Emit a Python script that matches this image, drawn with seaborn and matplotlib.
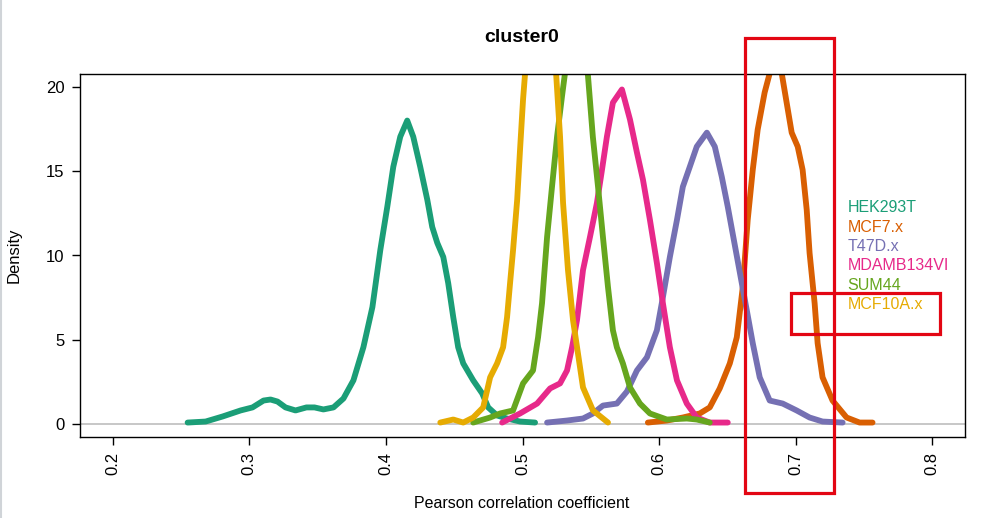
import numpy as np
import pandas as pd
import matplotlib
matplotlib.use("Agg")
import matplotlib.pyplot as plt
import seaborn as sns
from matplotlib.patches import Rectangle
from matplotlib.lines import Line2D

# values (x = Pearson r, y = density)
cell_lines = ["HEK293T", "MCF7.x", "T47D.x", "MDAMB134VI", "SUM44", "MCF10A.x"]
colors = ["#1B9E77", "#D95F02", "#7570B3", "#E7298A", "#66A61E", "#E6AB02"]

hek_x = [0.2548, 0.268, 0.2804, 0.2936, 0.3023, 0.3104, 0.3155, 0.3206, 0.3265, 0.3338,
         0.3418, 0.3477, 0.3542, 0.3616, 0.3689, 0.3762, 0.3835, 0.3901, 0.3959, 0.401,
         0.4054, 0.4105, 0.4156, 0.42, 0.4251, 0.4303, 0.4339, 0.4376, 0.442, 0.4456,
         0.4493, 0.4529, 0.4566, 0.4639, 0.4705, 0.4749, 0.4814, 0.4887, 0.4982, 0.5092]
hek_y = [0.06, 0.12, 0.42, 0.78, 0.96, 1.37, 1.43, 1.31, 0.96, 0.78,
         0.96, 0.96, 0.84, 0.96, 1.49, 2.57, 4.54, 6.93, 10.33, 12.9,
         15.28, 17.07, 18.03, 17.07, 15.28, 13.31, 11.7, 10.75, 9.91, 8.36,
         6.33, 4.54, 3.58, 2.57, 1.79, 0.96, 0.48, 0.3, 0.12, 0.06]

mcf7_x = [0.5918, 0.6057, 0.6174, 0.6298, 0.6371, 0.6444, 0.6518, 0.6569, 0.6613, 0.6649,
          0.6686, 0.6722, 0.6773, 0.681, 0.6855, 0.6898, 0.6934, 0.6971, 0.7015, 0.7051,
          0.7081, 0.7102, 0.7139, 0.7161, 0.7197, 0.727, 0.7373, 0.7468, 0.7563]
mcf7_y = [0.06, 0.18, 0.36, 0.6, 0.96, 2.09, 3.58, 5.13, 8.12, 12.12,
          15.1, 17.49, 19.7, 20.84, 21.8, 20.84, 19.1, 17.31, 16.48, 15.1,
          12.72, 10.15, 7.16, 4.78, 2.75, 1.37, 0.36, 0.06, 0.06]

t47d_x = [0.518, 0.5326, 0.5443, 0.5516, 0.5589, 0.5691, 0.5765, 0.5838, 0.5911, 0.5984,
          0.6028, 0.6079, 0.6131, 0.6174, 0.6225, 0.6276, 0.635, 0.6408, 0.6459, 0.6503,
          0.6561, 0.6642, 0.6686, 0.6737, 0.681, 0.6905, 0.7007, 0.7102, 0.7197, 0.7344]
t47d_y = [0.06, 0.18, 0.3, 0.6, 1.07, 1.19, 1.91, 3.16, 3.94, 5.55,
          7.52, 9.91, 12.12, 14.09, 15.28, 16.48, 17.31, 16.48, 14.69, 12.9,
          10.33, 6.75, 4.78, 2.75, 1.37, 1.19, 0.78, 0.36, 0.12, 0.06]

mdamb_x = [0.4851, 0.4982, 0.5107, 0.5202, 0.5275, 0.5326, 0.5363, 0.5399, 0.5443, 0.5494,
           0.5545, 0.5582, 0.5618, 0.5662, 0.5728, 0.5787, 0.5838, 0.5882, 0.5933, 0.5984,
           0.6028, 0.6079, 0.6131, 0.6203, 0.6276, 0.6371, 0.6503]
mdamb_y = [0.06, 0.6, 1.19, 2.09, 2.39, 3.16, 4.54, 6.15, 9.13, 11.1,
           13.13, 15.1, 17.07, 19.1, 19.88, 18.09, 16.12, 14.51, 12.12, 9.55,
           7.16, 4.54, 2.57, 1.19, 0.36, 0.06, 0.06]

sum44_x = [0.4639, 0.4763, 0.4836, 0.4931, 0.5004, 0.5077, 0.5114, 0.5143, 0.518, 0.5216,
           0.5253, 0.5289, 0.5311, 0.5392, 0.5478, 0.5515, 0.5553, 0.5589, 0.5626, 0.5662,
           0.5691, 0.5735, 0.5787, 0.586, 0.5933, 0.6057, 0.6203, 0.6276, 0.6371]
sum44_y = [0.06, 0.36, 0.6, 0.78, 2.39, 3.16, 5.13, 7.16, 11.1, 14.09,
           17.07, 19.46, 20.84, 25.0, 20.84, 17.07, 14.09, 11.1, 8.12, 5.55,
           4.54, 3.58, 2.15, 1.19, 0.6, 0.24, 0.3, 0.24, 0.06]

mcf10a_x = [0.4398, 0.4493, 0.4566, 0.4639, 0.4712, 0.4763, 0.4814, 0.4858, 0.4887, 0.4909,
            0.4931, 0.4961, 0.4982, 0.5004, 0.5019, 0.513, 0.5246, 0.5275, 0.5297, 0.5333,
            0.537, 0.5406, 0.5443, 0.5516, 0.5626]
mcf10a_y = [0.06, 0.24, 0.06, 0.36, 0.96, 2.75, 3.58, 4.54, 6.33, 8.36,
            10.33, 13.31, 16.3, 19.28, 20.84, 27.0, 20.84, 17.07, 13.13, 9.13,
            6.15, 4.18, 2.15, 0.78, 0.06]

curves_x = [hek_x, mcf7_x, t47d_x, mdamb_x, sum44_x, mcf10a_x]
curves_y = [hek_y, mcf7_y, t47d_y, mdamb_y, sum44_y, mcf10a_y]

x_ticks = [0.2, 0.3, 0.4, 0.5, 0.6, 0.7, 0.8]
y_ticks = [0, 5, 10, 15, 20]

# highlight boxes (data coords: x0, x1, y0, y1)
boxes = [(0.6627, 0.7278, -4.12, 22.93), (0.6963, 0.806, 5.31, 7.76)]

frames = []
for name, xs, ys in zip(cell_lines, curves_x, curves_y):
    frames.append(pd.DataFrame({"r": xs, "density": ys, "line": name}))
df = pd.concat(frames, ignore_index=True)

sns.set_style("white")
plt.rcParams["font.family"] = ["Liberation Sans", "DejaVu Sans"]
plt.rcParams["text.color"] = "black"

fig = plt.figure(figsize=(10.03, 5.18), dpi=100)
ax = fig.add_axes([80 / 1003, 1 - 437 / 518, 885 / 1003, 363 / 518])

ax.axhline(0, color="#BEBEBE", lw=1.2, zorder=0)
sns.lineplot(data=df, x="r", y="density", hue="line", hue_order=cell_lines,
             palette=colors, sort=False, estimator=None, lw=4.2, legend=False, ax=ax,
             solid_capstyle="round", solid_joinstyle="round")

ax.set_xlim(0.176, 0.824)
ax.set_ylim(-0.8, 20.8)
ax.set_xticks(x_ticks)
ax.set_xticklabels([str(t) for t in x_ticks], rotation=90)
ax.set_yticks(y_ticks)
ax.set_xlabel("")
ax.set_ylabel("")
ax.tick_params(axis="both", direction="out", length=6, width=1, pad=5,
               labelsize=12, bottom=True, left=True, colors="black")
for s in ax.spines.values():
    s.set_visible(True)
    s.set_color("black")
    s.set_linewidth(1)

# legend as coloured text, no markers
for i, (name, c) in enumerate(zip(cell_lines, colors)):
    ax.text(0.738, 12.84 - i * 1.15, name, color=c, fontsize=11.5, va="center", ha="left")

for x0, x1, y0, y1 in boxes:
    ax.add_patch(Rectangle((x0, y0), x1 - x0, y1 - y0, fill=False, edgecolor="#E30613",
                           lw=2.3, clip_on=False, zorder=5))

fig.text(522 / 1003, 1 - 37 / 518, "cluster0", ha="center", va="center",
         fontsize=14, fontweight="bold")
fig.text(522 / 1003, 1 - 504 / 518, "Pearson correlation coefficient", ha="center",
         va="center", fontsize=11.5)
fig.text(14 / 1003, 1 - 255 / 518, "Density", ha="center", va="center",
         fontsize=12, rotation=90)
fig.add_artist(Line2D([0.001, 0.001], [0, 1], color="#D0D4D8", lw=1.5))

fig.savefig("out.png", dpi=100)
